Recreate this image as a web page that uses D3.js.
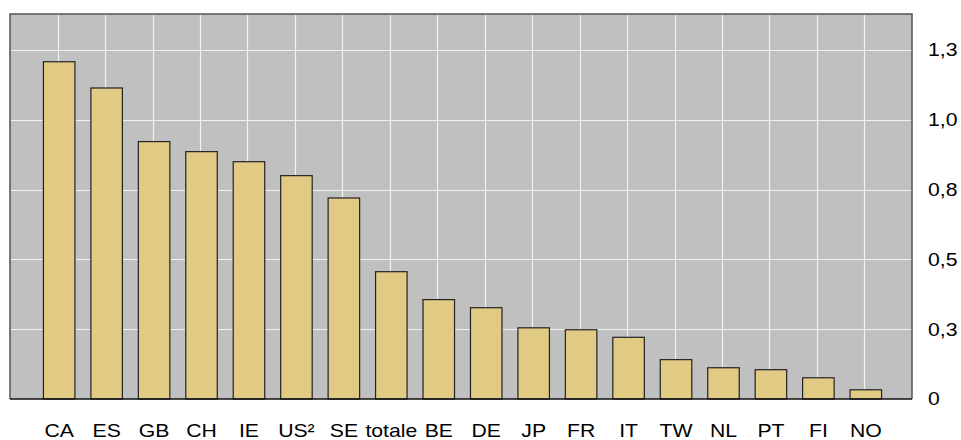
<!DOCTYPE html>
<html lang="it">
<head>
  <meta charset="UTF-8">
  <title>Bar chart</title>
  <script src="https://d3js.org/d3.v7.min.js"></script>
  <style>
    body { margin: 0; background: #fff; }
    svg { display: block; font-family: "Liberation Sans", Arial, Helvetica, sans-serif; }
  </style>
</head>
<body>
  <svg id="chart" width="961" height="440"></svg>
  <script>
    // data
    const countries = ["CA", "ES", "GB", "CH", "IE", "US²", "SE", "totale", "BE", "DE", "JP", "FR", "IT", "TW", "NL", "PT", "FI", "NO"];
    const values = [1.208, 1.114, 0.922, 0.886, 0.850, 0.800, 0.720, 0.456, 0.356, 0.327, 0.255, 0.248, 0.221, 0.141, 0.112, 0.105, 0.076, 0.033];
    const yTicks = [0, 0.25, 0.5, 0.75, 1.0, 1.25];
    const yTickLabels = ["0", "0,3", "0,5", "0,8", "1,0", "1,3"];

    const svg = d3.select("#chart");
    const margin = { top: 14, right: 49, bottom: 41, left: 10 };
    const width = 961 - margin.left - margin.right;
    const height = 440 - margin.top - margin.bottom;
    const fontSize = 18.6;
    const stretch = 1.14; // labels in the reference are a bit wider than Arial

    const g = svg.append("g").attr("transform", `translate(${margin.left},${margin.top})`);

    const x = d3.scaleBand()
      .domain(countries)
      .range([1.5, width + 1.5])
      .paddingInner(0.336)
      .paddingOuter(0.673);

    const y = d3.scaleLinear()
      .domain([0, 1.379])
      .range([height, 0]);

    // background
    g.append("rect")
      .attr("width", width)
      .attr("height", height)
      .attr("fill", "#c0c0c0");

    // grid
    g.append("g")
      .selectAll("line")
      .data(yTicks.slice(1))
      .join("line")
      .attr("x1", 0).attr("x2", width)
      .attr("y1", d => Math.round(y(d)) + 0.5)
      .attr("y2", d => Math.round(y(d)) + 0.5)
      .attr("stroke", "#f2f2f2")
      .attr("stroke-width", 1.2);

    g.append("g")
      .selectAll("line")
      .data(countries)
      .join("line")
      .attr("x1", d => Math.round(x(d) + x.bandwidth() / 2 - 1.5) + 0.5)
      .attr("x2", d => Math.round(x(d) + x.bandwidth() / 2 - 1.5) + 0.5)
      .attr("y1", 0).attr("y2", height)
      .attr("stroke", "#f2f2f2")
      .attr("stroke-width", 1.2);

    // bars
    g.append("g")
      .selectAll("rect")
      .data(values)
      .join("rect")
      .attr("x", (d, i) => x(countries[i]))
      .attr("y", d => y(d))
      .attr("width", x.bandwidth())
      .attr("height", d => height - y(d))
      .attr("fill", "#e0ca84")
      .attr("stroke", "#222")
      .attr("stroke-width", 1.2);

    // frame
    g.append("path")
      .attr("d", `M0,${height}V0H${width}V${height}`)
      .attr("fill", "none")
      .attr("stroke", "#555")
      .attr("stroke-width", 1.5);
    g.append("line")
      .attr("x1", 0).attr("x2", width)
      .attr("y1", height).attr("y2", height)
      .attr("stroke", "#111")
      .attr("stroke-width", 1.5);

    // x axis labels
    const xAxis = g.append("g")
      .attr("transform", `translate(0,${height})`)
      .call(d3.axisBottom(x).tickSize(0).tickPadding(24.5));
    xAxis.select(".domain").remove();
    xAxis.selectAll("text")
      .attr("transform", `scale(${stretch},1)`)
      .attr("font-size", fontSize)
      .attr("font-family", "Liberation Sans, Arial, sans-serif")
      .attr("fill", "#000");

    // y axis labels (right side)
    const yAxis = g.append("g")
      .attr("transform", `translate(${width},0)`)
      .call(d3.axisRight(y).tickValues(yTicks).tickFormat((d, i) => yTickLabels[i]).tickSize(0));
    yAxis.select(".domain").remove();
    yAxis.selectAll("text")
      .attr("x", 16 / stretch)
      .attr("transform", `scale(${stretch},1)`)
      .attr("font-size", fontSize)
      .attr("font-family", "Liberation Sans, Arial, sans-serif")
      .attr("fill", "#000");
  </script>
</body>
</html>
